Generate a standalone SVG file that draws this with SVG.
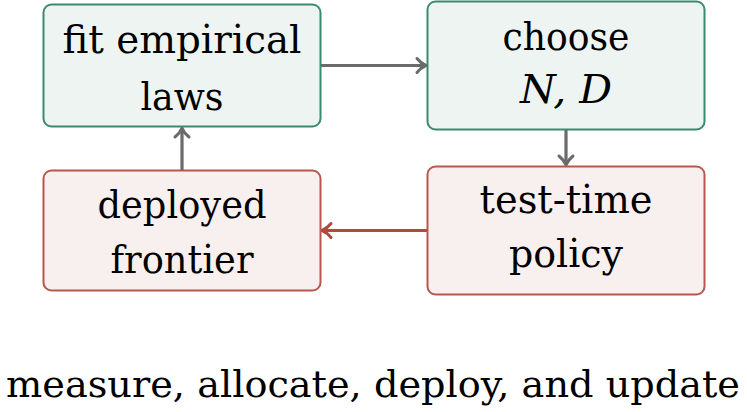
<svg xmlns="http://www.w3.org/2000/svg" width="747" height="412" viewBox="0 0 747 412">
<style>
.t{font-family:'DejaVu Serif','Liberation Serif','Times New Roman',serif;font-size:40px;fill:#000;text-anchor:middle}
.g{fill:#eef4f2;stroke:#3a8a6c;stroke-width:2}
.r{fill:#f8f0ef;stroke:#b8574b;stroke-width:2}
.cg{stroke:#6b6b6b;stroke-width:3.2;fill:none}
.cr{stroke:#b04a3c;stroke-width:3.2;fill:none}
</style>
<defs>
<marker id="ag" viewBox="0 0 10 10" refX="8" refY="5" markerWidth="10" markerHeight="10" markerUnits="userSpaceOnUse" orient="auto" overflow="visible">
<path d="M0,-2 Q4,3 9,5 Q4,7 0,12" fill="none" stroke="#6b6b6b" stroke-width="3" stroke-linecap="round"/>
</marker>
<marker id="ar" viewBox="0 0 10 10" refX="8" refY="5" markerWidth="10" markerHeight="10" markerUnits="userSpaceOnUse" orient="auto" overflow="visible">
<path d="M0,-2 Q4,3 9,5 Q4,7 0,12" fill="none" stroke="#b04a3c" stroke-width="3" stroke-linecap="round"/>
</marker>
</defs>
<g id="connectors">
<line class="cg" x1="321" y1="65.5" x2="425" y2="65.5" marker-end="url(#ag)"/>
<line class="cg" x1="566" y1="130" x2="566" y2="164" marker-end="url(#ag)"/>
<line class="cr" x1="427" y1="230.5" x2="323" y2="230.5" marker-end="url(#ar)"/>
<line class="cg" x1="182" y1="170" x2="182" y2="129" marker-end="url(#ag)"/>
</g>
<g id="fit">
<rect class="g" x="43.5" y="4.5" width="277" height="122" rx="8"/>
<text class="t" x="182" y="53" textLength="239" lengthAdjust="spacingAndGlyphs">fit empirical</text>
<text class="t" x="182" y="110" textLength="83" lengthAdjust="spacingAndGlyphs">laws</text>
</g>
<g id="choose">
<rect class="g" x="427.5" y="1.5" width="277" height="128" rx="8"/>
<text class="t" x="566" y="50" textLength="127" lengthAdjust="spacingAndGlyphs">choose</text>
<text class="t" x="566" y="103" font-style="italic" textLength="92" lengthAdjust="spacingAndGlyphs">N, D</text>
</g>
<g id="deployed">
<rect class="r" x="43.5" y="170.5" width="277" height="120" rx="8"/>
<text class="t" x="182" y="218" textLength="169" lengthAdjust="spacingAndGlyphs">deployed</text>
<text class="t" x="182" y="273" textLength="143" lengthAdjust="spacingAndGlyphs">frontier</text>
</g>
<g id="policy">
<rect class="r" x="427.5" y="166.5" width="277" height="128" rx="8"/>
<text class="t" x="566" y="213" textLength="173" lengthAdjust="spacingAndGlyphs">test-time</text>
<text class="t" x="566" y="267" textLength="114" lengthAdjust="spacingAndGlyphs">policy</text>
</g>
<text class="t" x="373" y="397" font-size="37" style="font-size:37px" textLength="734" lengthAdjust="spacingAndGlyphs">measure, allocate, deploy, and update</text>
</svg>
